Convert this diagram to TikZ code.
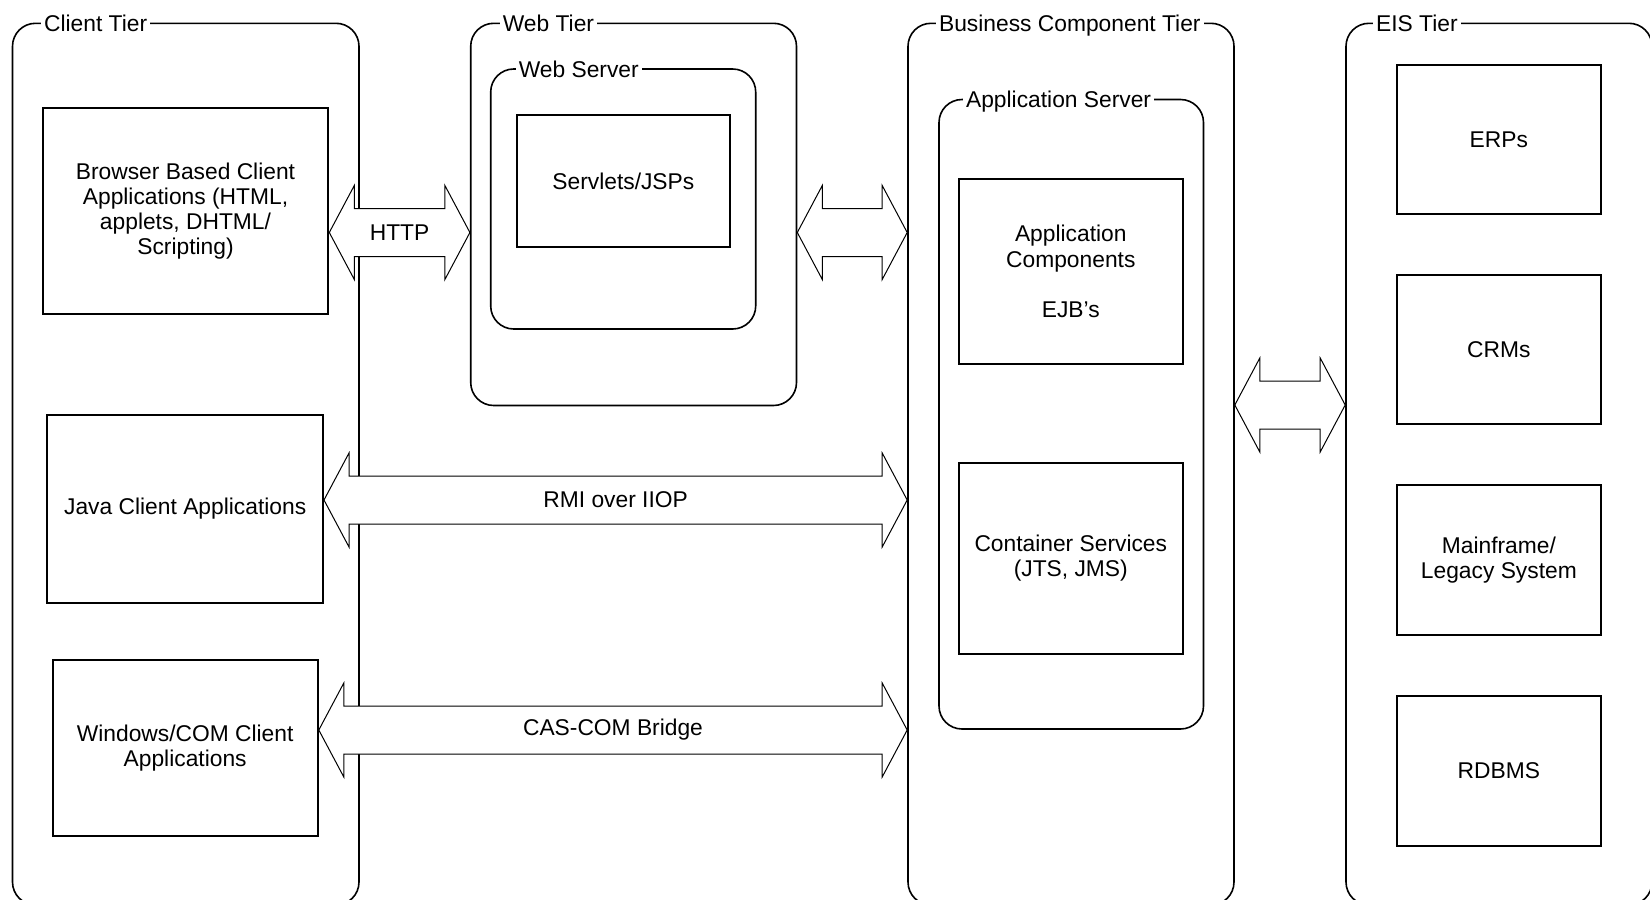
\documentclass[tikz,border=0pt]{standalone}
\usepackage{fontspec}
\setmainfont{Liberation Sans}
\usetikzlibrary{fit,calc}

\tikzset{
  txt/.style={font=\fontsize{11.4}{12.6}\selectfont, align=center, text=black},
  tier/.style={draw, line width=0.8pt, rounded corners=11.5pt, inner sep=0pt, fill=none},
  box/.style={draw, line width=1pt, inner sep=0pt, rectangle, txt},
  title/.style={txt, fill=white, anchor=base west, inner xsep=1.5pt, inner ysep=1pt},
  lbl/.style={txt, inner sep=0pt},
  % white double-headed block arrow between two points on one horizontal line
  blockarrow/.style={draw, fill=white, line width=0.5pt, line join=miter,
    to path={let \p1=(\tikztostart), \p2=(\tikztotarget) in
      (\x1,\y1) -- (\x1+12.5pt,\y1+23.5pt) -- (\x1+12.5pt,\y1+12pt)
      -- (\x2-12.5pt,\y1+12pt) -- (\x2-12.5pt,\y1+23.5pt) -- (\x2,\y1)
      -- (\x2-12.5pt,\y1-23.5pt) -- (\x2-12.5pt,\y1-12pt)
      -- (\x1+12.5pt,\y1-12pt) -- (\x1+12.5pt,\y1-23.5pt) -- cycle}}
}

\begin{document}
\begin{tikzpicture}[x=0.5pt, y=-0.5pt]
\useasboundingbox (0,0) rectangle (1650,900);
\clip (0,0) rectangle (1650,900);
\fill[white] (0,0) rectangle (1650,900);

% tiers
\node[tier, fit={(12.5,23.3) (359,905)}] (client) {};
\node[tier, fit={(470.7,23.3) (796.5,405.5)}] (web) {};
\node[tier, fit={(490.7,69) (755.7,329)}] (websrv) {};
\node[tier, fit={(908,23.3) (1234,905)}] (bus) {};
\node[tier, fit={(939,99.5) (1203.5,729)}] (appsrv) {};
\node[tier, fit={(1346,23.3) (1652,905)}] (eis) {};

% tier titles
\node[title] at ($(client.north west)+(29,8.8)$) {Client Tier};
\node[title] at ($(web.north west)+(29.5,8.8)$) {Web Tier};
\node[title] at ($(websrv.north west)+(25.5,8.8)$) {Web Server};
\node[title] at ($(bus.north west)+(28.5,8.8)$) {Business Component Tier};
\node[title] at ($(appsrv.north west)+(24.5,8.8)$) {Application Server};
\node[title] at ($(eis.north west)+(27.5,8.8)$) {EIS Tier};

% client tier
\node[box, minimum width=142.8pt, minimum height=103pt] (browser) at (185.5,211)
  {Browser Based Client\\Applications (HTML,\\applets, DHTML/\\Scripting)};
\node[box, minimum width=137.8pt, minimum height=94.2pt] (java) at (185.2,508.8)
  {Java Client Applications};
\node[box, minimum width=132.65pt, minimum height=88.1pt] (wincom) at (185.15,747.9)
  {Windows/COM Client\\Applications};

% web tier
\node[box, minimum width=106.65pt, minimum height=66.15pt] (servlets) at (623.35,181.15)
  {Servlets/JSPs};

% business tier
\node[box, minimum width=112.2pt, minimum height=92.5pt] (appcomp) at (1070.8,271.5)
  {Application\\Components\\[12.6pt]EJB’s};
\node[box, minimum width=112.2pt, minimum height=95.25pt] (contsvc) at (1070.8,558.25)
  {Container Services\\(JTS, JMS)};

% EIS tier
\node[box, minimum width=102.15pt, minimum height=74.5pt] (erp) at (1498.85,139.5) {ERPs};
\node[box, minimum width=102.15pt, minimum height=74.65pt] (crm) at (1498.85,349.65) {CRMs};
\node[box, minimum width=102.15pt, minimum height=75pt] (mainfr) at (1498.85,560)
  {Mainframe/\\Legacy System};
\node[box, minimum width=102.15pt, minimum height=74.85pt] (rdbms) at (1498.85,770.85) {RDBMS};

% arrow centre lines
\coordinate (yhttp) at (0,232.5);
\coordinate (yrmi) at (0,500);
\coordinate (ycas) at (0,730);
\coordinate (yeis) at (0,405);

% connectors
\draw[blockarrow] (browser.east |- yhttp) to (web.west |- yhttp);
\path (browser.east |- yhttp) -- node[lbl] {HTTP} (web.west |- yhttp);

\draw[blockarrow] (web.east |- yhttp) to (bus.west |- yhttp);

\draw[blockarrow] (java.east |- yrmi) to (bus.west |- yrmi);
\path (java.east |- yrmi) -- node[lbl] {RMI over IIOP} (bus.west |- yrmi);

\draw[blockarrow] (wincom.east |- ycas) to (bus.west |- ycas);
\path (wincom.east |- ycas) -- node[lbl] {CAS-COM Bridge} (bus.west |- ycas);

\draw[blockarrow] (bus.east |- yeis) to (eis.west |- yeis);
\end{tikzpicture}
\end{document}
